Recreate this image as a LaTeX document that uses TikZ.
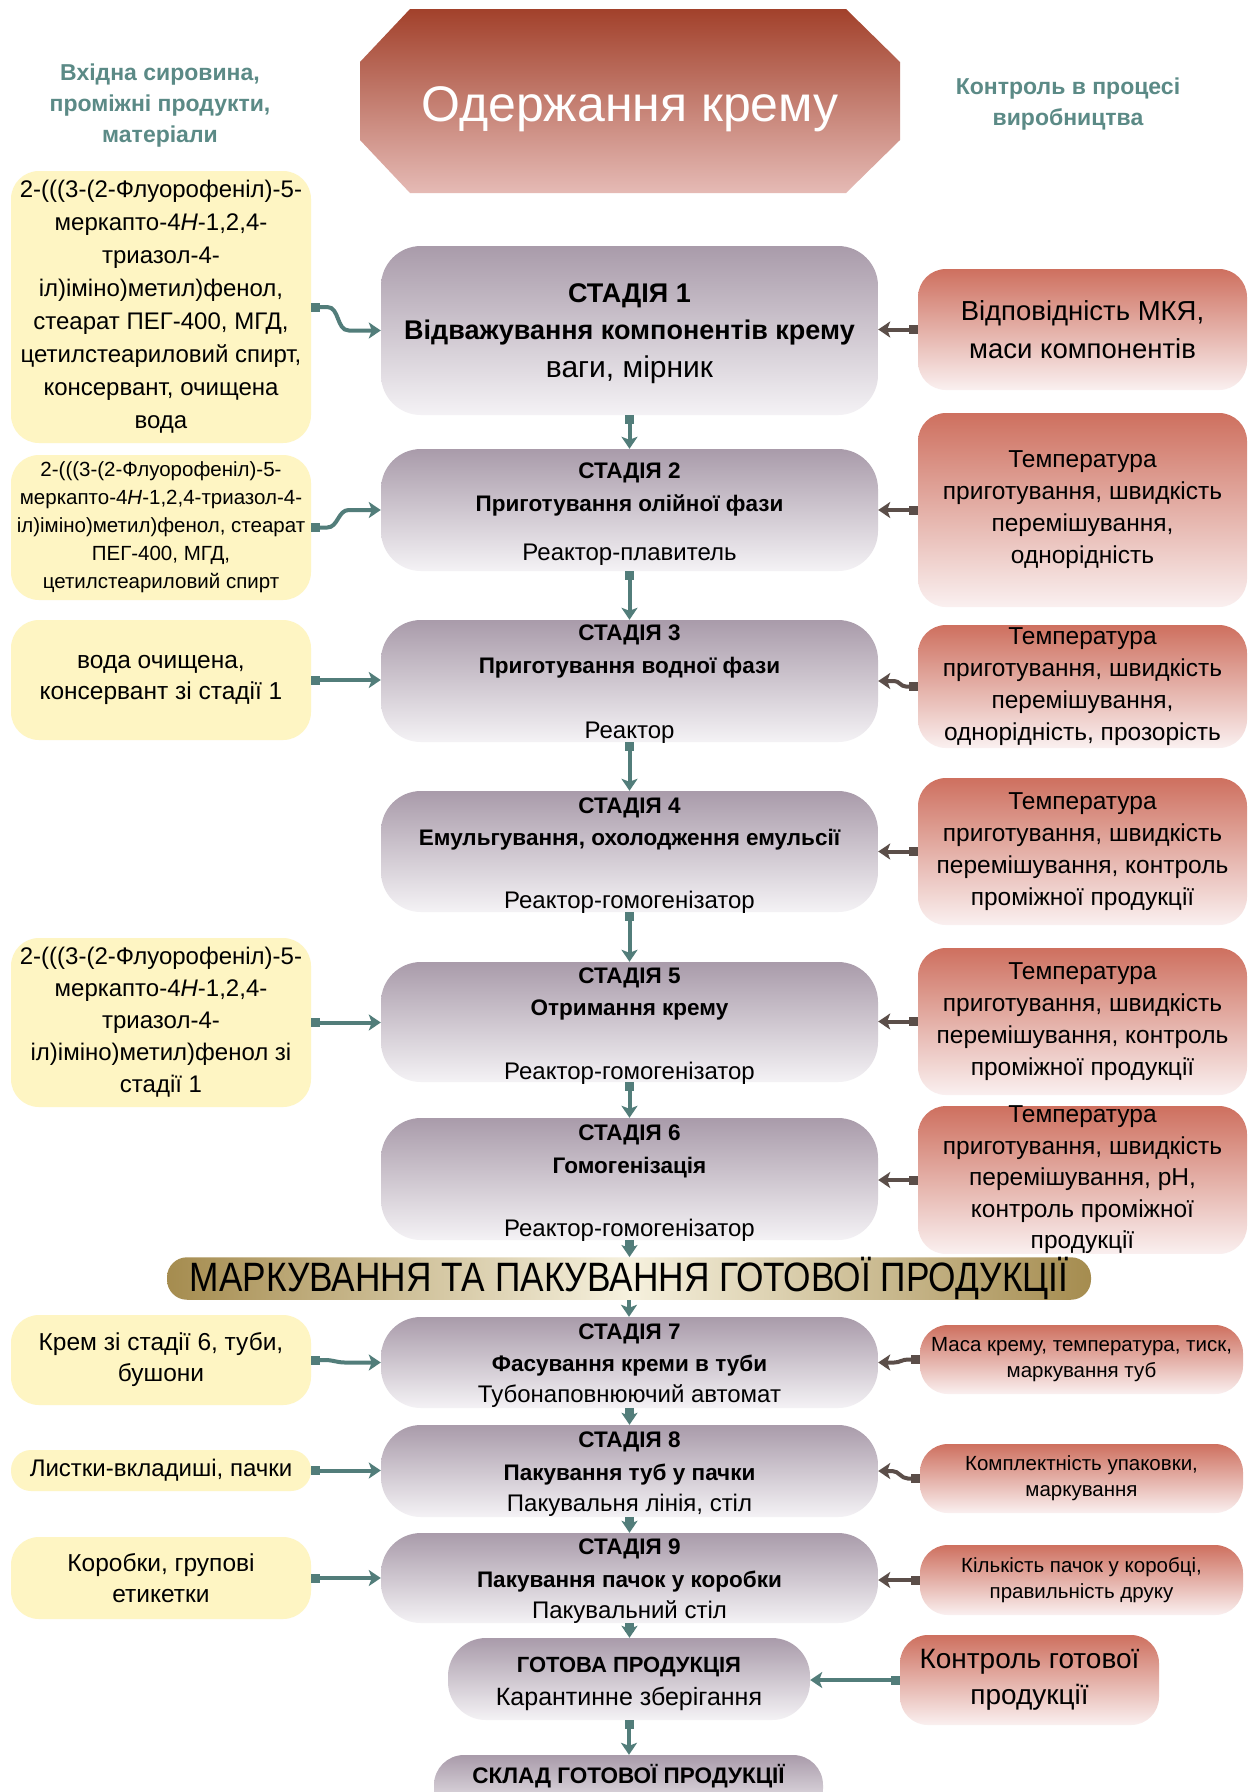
\documentclass[tikz,border=0pt]{standalone}
\usepackage{fontspec}
\setmainfont{Liberation Sans}
\newfontfamily\narrowfont[FakeStretch=0.86]{Liberation Sans}
\usetikzlibrary{arrows.meta}
\definecolor{tealc}{HTML}{527D7A}
\definecolor{brownc}{HTML}{5B4E49}
\definecolor{hdrtxt}{HTML}{5B8A86}
\definecolor{stTop}{HTML}{A99BAA}
\definecolor{stBot}{HTML}{F4F2F5}
\definecolor{rdTop}{HTML}{CE705F}
\definecolor{rdBot}{HTML}{FAF0F0}
\definecolor{yel}{HTML}{FEF5C3}
\definecolor{hdTop}{HTML}{A2412B}
\definecolor{hdBot}{HTML}{E5BAB5}
\definecolor{bnEdge}{HTML}{A58C4F}
\definecolor{bnMid}{HTML}{F6F1DE}
\newcommand{\fs}[2]{\fontsize{#1}{#2}\selectfont}
\begin{document}
\begin{tikzpicture}[x=1pt,y=-1pt,
  stagebox/.style={rectangle, rounded corners=40pt, top color=stTop, bottom color=stBot, inner sep=0pt},
  ctrlbox/.style={rectangle, rounded corners=28pt, top color=rdTop, bottom color=rdBot, inner sep=0pt, align=center, text=black},
  inbox/.style={rectangle, rounded corners=28pt, fill=yel, inner sep=0pt, align=center},
  txtline/.style={inner sep=0pt, anchor=base},
  conn/.style={draw=tealc, line width=4pt, arrows={Square[length=9pt,width=9pt]-Stealth[length=12pt,width=16pt,inset=3pt]}},
  connb/.style={conn, draw=brownc},
  connd/.style={draw=tealc, line width=4pt, arrows={-Stealth[length=12pt,width=16pt,inset=3pt]}}
]
\fill[white] (0,0) rectangle (1249,1792);
\clip (0,0) rectangle (1249,1792);

% header
\path[top color=hdTop, bottom color=hdBot] (360,62)--(410,9)--(846,9)--(900,62)--(900,140)--(846,193)--(410,193)--(360,140)--cycle;
\node[txtline, text=white, font=\fs{50}{56}] (title) at (630,121) {Одержання крему};
\node[align=center, inner sep=0pt, font=\bfseries\fs{23}{31}, text=hdrtxt] (hl) at (160,106) {Вхідна сировина,\\проміжні продукти,\\матеріали};
\node[align=center, inner sep=0pt, font=\bfseries\fs{23}{31}, text=hdrtxt] (hr) at (1068,104) {Контроль в процесі\\виробництва};

% left input boxes
\node[inbox, minimum width=300pt, minimum height=272pt, font=\fs{24}{33}] (l1) at (161,307) {2-(((3-(2-Флуорофеніл)-5-\\меркапто-4\textit{H}-1,2,4-\\триазол-4-\\іл)іміно)метил)фенол,\\стеарат ПЕГ-400, МГД,\\цетилстеариловий спирт,\\консервант, очищена\\вода};
\node[inbox, minimum width=300pt, minimum height=145pt, font=\fs{20.5}{28}] (l2) at (161,527.5) {2-(((3-(2-Флуорофеніл)-5-\\меркапто-4\textit{H}-1,2,4-триазол-4-\\іл)іміно)метил)фенол, стеарат\\ПЕГ-400, МГД,\\цетилстеариловий спирт};
\node[inbox, minimum width=300pt, minimum height=120pt, font=\fs{24.5}{31}] (l3) at (161,680) {вода очищена,\\консервант зі стадії 1};
\node[inbox, minimum width=300pt, minimum height=169pt, font=\fs{24}{32}] (l5) at (161,1022.5) {2-(((3-(2-Флуорофеніл)-5-\\меркапто-4\textit{H}-1,2,4-\\триазол-4-\\іл)іміно)метил)фенол зі\\стадії 1};
\node[inbox, minimum width=300pt, minimum height=90pt, font=\fs{24.5}{31}] (l7) at (161,1360) {Крем зі стадії 6, туби,\\бушони};
\node[inbox, minimum width=300pt, minimum height=41pt, rounded corners=20pt, font=\fs{24}{28}] (l8) at (161,1470.5) {Листки-вкладиші, пачки};
\node[inbox, minimum width=300pt, minimum height=82pt, font=\fs{24.5}{31}] (l9) at (161,1578) {Коробки, групові\\етикетки};

% stage boxes
\node[stagebox, minimum width=497pt, minimum height=169pt] (s1) at (629.5,330.5) {};
\node[txtline, font=\bfseries\fs{27}{30}] (s1a) at (629.5,302.5) {СТАДІЯ 1};
\node[txtline, font=\bfseries\fs{27}{30}] (s1b) at (629.5,339.5) {Відважування компонентів крему};
\node[txtline, font=\fs{30}{32}] (s1c) at (629.5,377.5) {ваги, мірник};

\node[stagebox, minimum width=497pt, minimum height=122pt] (s2) at (629.5,510) {};
\node[txtline, font=\bfseries\fs{22.5}{26}] (s2a) at (629.5,478) {СТАДІЯ 2};
\node[txtline, font=\bfseries\fs{22.5}{26}] (s2b) at (629.5,511) {Приготування олійної фази};
\node[txtline, font=\fs{24}{26}] (s2c) at (629.5,560.5) {Реактор-плавитель};

\node[stagebox, minimum width=497pt, minimum height=122pt] (s3) at (629.5,681) {};
\node[txtline, font=\bfseries\fs{22.5}{26}] (s3a) at (629.5,640) {СТАДІЯ 3};
\node[txtline, font=\bfseries\fs{22.5}{26}] (s3b) at (629.5,673) {Приготування водної фази};
\node[txtline, font=\fs{24}{26}] (s3c) at (629.5,738.5) {Реактор};

\node[stagebox, minimum width=497pt, minimum height=121pt] (s4) at (629.5,851.5) {};
\node[txtline, font=\bfseries\fs{22.5}{26}] (s4a) at (629.5,813) {СТАДІЯ 4};
\node[txtline, font=\bfseries\fs{22.5}{26}] (s4b) at (629.5,845) {Емульгування, охолодження емульсії};
\node[txtline, font=\fs{24}{26}] (s4c) at (629.5,908.5) {Реактор-гомогенізатор};

\node[stagebox, minimum width=497pt, minimum height=120pt] (s5) at (629.5,1022) {};
\node[txtline, font=\bfseries\fs{22.5}{26}] (s5a) at (629.5,983) {СТАДІЯ 5};
\node[txtline, font=\bfseries\fs{22.5}{26}] (s5b) at (629.5,1015) {Отримання крему};
\node[txtline, font=\fs{24}{26}] (s5c) at (629.5,1079.5) {Реактор-гомогенізатор};

\node[stagebox, minimum width=497pt, minimum height=122pt] (s6) at (629.5,1179) {};
\node[txtline, font=\bfseries\fs{22.5}{26}] (s6a) at (629.5,1140) {СТАДІЯ 6};
\node[txtline, font=\bfseries\fs{22.5}{26}] (s6b) at (629.5,1173) {Гомогенізація};
\node[txtline, font=\fs{24}{26}] (s6c) at (629.5,1236.5) {Реактор-гомогенізатор};

\node[rectangle, rounded corners=20pt, left color=bnEdge, right color=bnEdge, middle color=bnMid, minimum width=924pt, minimum height=41pt, inner sep=0pt, font=\narrowfont\fs{41}{41}] (ban) at (629,1278.5) {МАРКУВАННЯ ТА ПАКУВАННЯ ГОТОВОЇ ПРОДУКЦІЇ};

\node[stagebox, minimum width=497pt, minimum height=91pt] (s7) at (629.5,1362.5) {};
\node[txtline, font=\bfseries\fs{22.5}{26}] (s7a) at (629.5,1339) {СТАДІЯ 7};
\node[txtline, font=\bfseries\fs{22.5}{26}] (s7b) at (629.5,1371) {Фасування креми в туби};
\node[txtline, font=\fs{24}{26}] (s7c) at (629.5,1402.5) {Тубонаповнюючий автомат};

\node[stagebox, minimum width=497pt, minimum height=92pt] (s8) at (629.5,1471) {};
\node[txtline, font=\bfseries\fs{22.5}{26}] (s8a) at (629.5,1447) {СТАДІЯ 8};
\node[txtline, font=\bfseries\fs{22.5}{26}] (s8b) at (629.5,1480) {Пакування туб у пачки};
\node[txtline, font=\fs{24}{26}] (s8c) at (629.5,1511.5) {Пакувальня лінія, стіл};

\node[stagebox, minimum width=497pt, minimum height=90pt] (s9) at (629.5,1578) {};
\node[txtline, font=\bfseries\fs{22.5}{26}] (s9a) at (629.5,1554) {СТАДІЯ 9};
\node[txtline, font=\bfseries\fs{22.5}{26}] (s9b) at (629.5,1587) {Пакування пачок у коробки};
\node[txtline, font=\fs{24}{26}] (s9c) at (629.5,1618.5) {Пакувальний стіл};

\node[stagebox, rounded corners=38pt, minimum width=362pt, minimum height=82pt] (gp) at (629,1679) {};
\node[txtline, font=\bfseries\fs{22}{26}] (gpa) at (629,1672) {ГОТОВА ПРОДУКЦІЯ};
\node[txtline, font=\fs{25}{26}] (gpb) at (629,1705) {Карантинне зберігання};

\node[stagebox, rounded corners=30pt, minimum width=389pt, minimum height=64pt] (sk) at (628.5,1787) {};
\node[txtline, font=\bfseries\fs{22.5}{26}] (ska) at (628.5,1783) {СКЛАД ГОТОВОЇ ПРОДУКЦІЇ};

% control boxes
\node[ctrlbox, minimum width=329pt, minimum height=121pt, font=\fs{27.5}{38}] (r1) at (1082.5,329.5) {Відповідність МКЯ,\\маси компонентів};
\node[ctrlbox, minimum width=329pt, minimum height=194pt, font=\fs{24.5}{32}] (r2) at (1082.5,510) {Температура\\приготування, швидкість\\перемішування,\\однорідність};
\node[ctrlbox, minimum width=329pt, minimum height=123pt, font=\fs{24.5}{32}] (r3) at (1082.5,686.5) {Температура\\приготування, швидкість\\перемішування,\\однорідність, прозорість};
\node[ctrlbox, minimum width=329pt, minimum height=147pt, font=\fs{24.5}{32}] (r4) at (1082.5,851.5) {Температура\\приготування, швидкість\\перемішування, контроль\\проміжної продукції};
\node[ctrlbox, minimum width=329pt, minimum height=147pt, font=\fs{24.5}{32}] (r5) at (1082.5,1021.5) {Температура\\приготування, швидкість\\перемішування, контроль\\проміжної продукції};
\node[ctrlbox, minimum width=329pt, minimum height=146pt, font=\fs{24.5}{31.5}] (r6) at (1082.5,1180) {Температура\\приготування, швидкість\\перемішування, pH,\\контроль проміжної\\продукції};
\node[ctrlbox, minimum width=323pt, minimum height=69pt, font=\fs{20.5}{26}] (r7) at (1081.5,1359.5) {Маса крему, температура, тиск,\\маркування туб};
\node[ctrlbox, minimum width=323pt, minimum height=69pt, font=\fs{20.5}{26}] (r8) at (1081.5,1478.5) {Комплектність упаковки,\\маркування};
\node[ctrlbox, minimum width=323pt, minimum height=70pt, font=\fs{20.5}{26}] (r9) at (1081.5,1580) {Кількість пачок у коробці,\\правильність друку};
\node[ctrlbox, minimum width=259pt, minimum height=90pt, font=\fs{28}{36}] (kg) at (1029.5,1680) {Контроль готової\\продукції};

% connectors from inputs
\draw[conn] (l1.east) -- ++(16,0) to[out=0,in=180] ([xshift=-32pt]s1.west) -- (s1.west);
\draw[conn] (l2.east) -- ++(16,0) to[out=0,in=180] ([xshift=-32pt]s2.west) -- (s2.west);
\draw[conn] (l3.east) -- (l3.east -| s3.west);
\draw[conn] (l5.east) -- (l5.east -| s5.west);
\draw[conn] (l7.east) -- ++(14,0) to[out=0,in=180] ([xshift=-36pt]s7.west) -- (s7.west);
\draw[conn] (l8.east) -- (l8.east -| s8.west);
\draw[conn] (l9.east) -- (l9.east -| s9.west);

% connectors from controls
\draw[connb] (r1.west) -- (r1.west -| s1.east);
\draw[connb] (r2.west) -- (r2.west -| s2.east);
\draw[connb] (r3.west) -- ++(-12,0) to[out=180,in=0] ([xshift=16pt]s3.east) -- (s3.east);
\draw[connb] (r4.west) -- (r4.west -| s4.east);
\draw[connb] (r5.west) -- (r5.west -| s5.east);
\draw[connb] (r6.west) -- (r6.west -| s6.east);
\draw[connb] (r7.west) -- ++(-12,0) to[out=180,in=0] ([xshift=16pt]s7.east) -- (s7.east);
\draw[connb] (r8.west) -- ++(-12,0) to[out=180,in=0] ([xshift=14pt]s8.east) -- (s8.east);
\draw[connb] (r9.west) -- (r9.west -| s9.east);
\draw[conn] (kg.west) -- (kg.west -| gp.east);

% main flow
\draw[conn] (s1.south) -- (s2.north);
\draw[conn] (s2.south) -- (s3.north);
\draw[conn] (s3.south) -- (s4.north);
\draw[conn] (s4.south) -- (s5.north);
\draw[conn] (s5.south) -- (s6.north);
\draw[conn] (s6.south) -- (s6.south |- ban.north);
\draw[connd] (ban.south) -- (ban.south |- s7.north);
\draw[conn] (s7.south) -- (s8.north);
\draw[conn] (s8.south) -- (s9.north);
\draw[conn] (s9.south) -- (s9.south |- gp.north);
\draw[conn] (gp.south) -- (gp.south |- sk.north);
\end{tikzpicture}
\end{document}
